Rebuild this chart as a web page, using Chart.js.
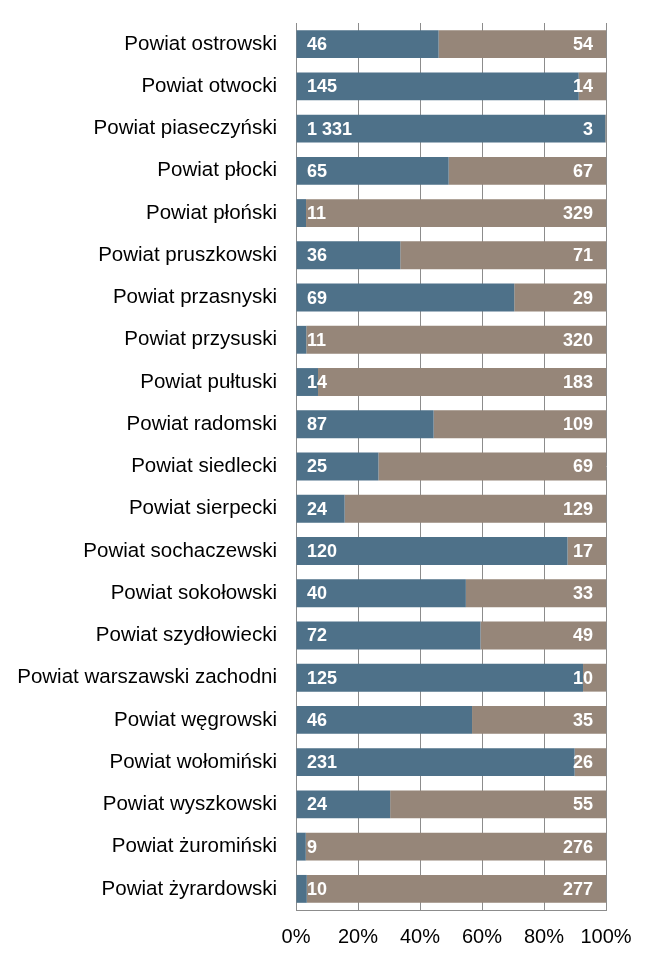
<!DOCTYPE html>
<html>
<head>
<meta charset="utf-8">
<script src="https://cdn.jsdelivr.net/npm/chart.js@4"></script>
<style>
  html, body { margin: 0; padding: 0; background: #fff; }
  #wrap { width: 655px; height: 961px; }
</style>
</head>
<body>
<div id="wrap"><canvas id="myChart" width="655" height="961"></canvas></div>
<script>
// categories and counts
const powiaty = [
    'Powiat ostrowski', 'Powiat otwocki', 'Powiat piaseczyński', 'Powiat płocki',
    'Powiat płoński', 'Powiat pruszkowski', 'Powiat przasnyski', 'Powiat przysuski',
    'Powiat pułtuski', 'Powiat radomski', 'Powiat siedlecki', 'Powiat sierpecki',
    'Powiat sochaczewski', 'Powiat sokołowski', 'Powiat szydłowiecki',
    'Powiat warszawski zachodni', 'Powiat węgrowski', 'Powiat wołomiński',
    'Powiat wyszkowski', 'Powiat żuromiński', 'Powiat żyrardowski'
];
const seriaA = [46, 145, 1331, 65, 11, 36, 69, 11, 14, 87, 25, 24, 120, 40, 72, 125, 46, 231, 24, 9, 10];
const seriaB = [54, 14, 3, 67, 329, 71, 29, 320, 183, 109, 69, 129, 17, 33, 49, 10, 35, 26, 55, 276, 277];
const xTicks = [0, 20, 40, 60, 80, 100];

const pctA = seriaA.map((v, i) => v / (v + seriaB[i]) * 100);
const pctB = seriaB.map((v, i) => v / (v + seriaA[i]) * 100);

function fmt(n) {
    return String(n).replace(/\B(?=(\d{3})+(?!\d))/g, ' ');
}

// draw the counts inside the bars (no datalabels plugin available offline)
const countLabels = {
    id: 'countLabels',
    afterDatasetsDraw(chart) {
        const ctx = chart.ctx;
        ctx.save();
        ctx.fillStyle = '#fff';
        ctx.font = 'bold 18px "Liberation Sans", Arial, sans-serif';
        ctx.textBaseline = 'middle';
        const left = chart.scales.x.left;
        const right = chart.scales.x.right;
        chart.getDatasetMeta(0).data.forEach((bar, i) => {
            ctx.textAlign = 'left';
            ctx.fillText(fmt(seriaA[i]), left + 11, bar.y + 1);
        });
        chart.getDatasetMeta(1).data.forEach((bar, i) => {
            ctx.textAlign = 'right';
            ctx.fillText(fmt(seriaB[i]), right - 13, bar.y + 1);
        });
        ctx.restore();
    }
};

const config = {
    type: 'bar',
    data: {
        labels: powiaty,
        datasets: [
            { data: pctA, backgroundColor: 'rgb(78, 113, 137)', barPercentage: 0.66, categoryPercentage: 1 },
            { data: pctB, backgroundColor: 'rgb(150, 134, 121)', barPercentage: 0.66, categoryPercentage: 1 }
        ]
    },
    options: {
        indexAxis: 'y',
        responsive: false,
        animation: false,
        layout: { padding: { top: 23, right: 49, left: 0, bottom: 0 } },
        plugins: {
            legend: { display: false },
            tooltip: { enabled: false }
        },
        scales: {
            x: {
                stacked: true,
                min: 0,
                max: 100,
                afterBuildTicks: (scale) => { scale.ticks = xTicks.map(v => ({ value: v })); },
                afterFit: (scale) => { scale.height = 51; },
                grid: { color: '#8c8c8c', drawTicks: false },
                border: { color: '#8c8c8c' },
                ticks: {
                    padding: 15,
                    color: '#000',
                    font: { family: '"Liberation Sans", Arial, sans-serif', size: 20 },
                    callback: (v) => v + '%'
                }
            },
            y: {
                stacked: true,
                afterFit: (scale) => {
                    scale.width = 296;
                    scale.paddingTop = 0;
                    scale.paddingBottom = 0;
                },
                grid: { display: false, drawTicks: false },
                border: { color: '#8c8c8c' },
                ticks: {
                    padding: 19,
                    color: '#000',
                    autoSkip: false,
                    font: { family: '"Liberation Sans", Arial, sans-serif', size: 20.5 }
                }
            }
        }
    },
    plugins: [countLabels]
};

const ctx = document.getElementById('myChart').getContext('2d');
new Chart(ctx, config);
</script>
</body>
</html>
